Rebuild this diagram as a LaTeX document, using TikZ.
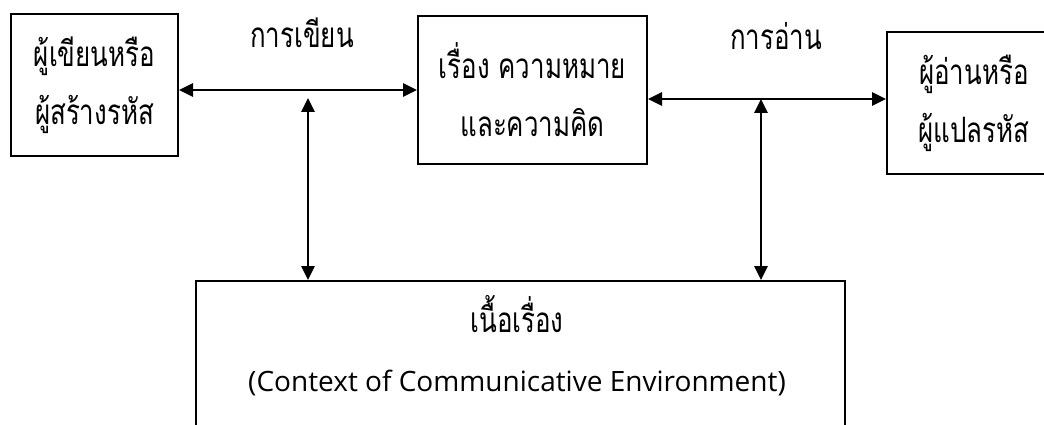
\documentclass[tikz,border=0pt]{standalone}
\usepackage{fontspec}
\setmainfont{Open Sans}
\newfontfamily\thaifont[Script=Thai,FakeStretch=0.74]{Loma}
\usetikzlibrary{arrows.meta}

\tikzset{
  box/.style={draw, line width=2pt, inner sep=0pt, align=center,
    font=\thaifont\fontsize{35}{58}\selectfont},
  tag/.style={font=\thaifont\fontsize{35}{40}\selectfont},
  link/.style={line width=2.8pt,
    {Triangle[length=14pt,width=13pt]}-{Triangle[length=14pt,width=13pt]}},
}

\begin{document}
\begin{tikzpicture}[x=1pt,y=-1pt]
  \clip (0,0) rectangle (1044,425);
  % the three boxes on top
  \node[box, minimum width=167pt, minimum height=142pt] (writer) at (94.5,85)
    {ผู้เขียนหรือ\\ผู้สร้างรหัส};
  \node[box, minimum width=229pt, minimum height=148pt] (story) at (532.5,90)
    {เรื่อง ความหมาย\\และความคิด};
  \node[box, minimum width=174pt, minimum height=142pt] (reader) at (974,103)
    {ผู้อ่านหรือ\\ผู้แปลรหัส};
  % the context box, cut off at the bottom
  \node[box, minimum width=649pt, minimum height=200pt] (ctx) at (520.5,381) {};
  \node[align=center, font=\fontsize{28}{59}\selectfont] (ctxtext) at (517,346)
    {{\thaifont\fontsize{35}{40}\selectfont เนื้อเรื่อง}\\(Context of Communicative Environment)};
  % labels
  \node[tag] (write) at (302,33) {การเขียน};
  \node[tag] (read) at (776,36) {การอ่าน};
  % arrows
  \draw[link] ([yshift=-5pt]writer.east) -- (story.west);
  \draw[link] ([yshift=-9pt]story.east) -- ([yshift=4pt]reader.west);
  \coordinate (wmid) at (308,98);
  \coordinate (rmid) at (761,99);
  \draw[link] (wmid) -- (wmid |- ctx.north);
  \draw[link] (rmid) -- (rmid |- ctx.north);
\end{tikzpicture}
\end{document}
